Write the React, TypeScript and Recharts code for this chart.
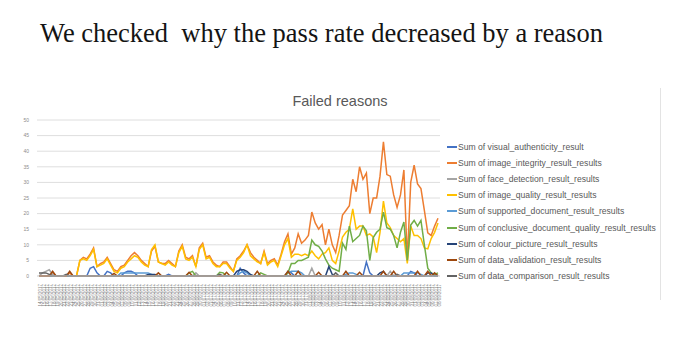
import { LineChart, Line, XAxis, YAxis, CartesianGrid } from "recharts"

const dates: string[] = []
for (let i = 0; i < 118; i++) {
  const d = new Date(2017, 4, 14 + i)
  dates.push(`${String(d.getDate()).padStart(2, "0")}/${String(d.getMonth() + 1).padStart(2, "0")}/${d.getFullYear()}`)
}

const yTicks = [0, 5, 10, 15, 20, 25, 30, 35, 40, 45, 50]

const seriesNames = [
  "Sum of visual_authenticity_result",
  "Sum of image_integrity_result_results",
  "Sum of face_detection_result_results",
  "Sum of image_quality_result_results",
  "Sum of supported_document_result_results",
  "Sum of conclusive_document_quality_result_results",
  "Sum of colour_picture_result_results",
  "Sum of data_validation_result_results",
  "Sum of data_comparison_result_results",
]

const colors = ["#4472C4", "#ED7D31", "#A5A5A5", "#FFC000", "#5B9BD5", "#70AD47", "#264478", "#9E480E", "#636363"]

const visualAuthenticity = [
  0, 0, 0, 0, 0, 0, 0, 0, 0, 0,
  0, 0, 0, 0, 0, 2.5, 3, 1, 0, 0,
  1.5, 1, 0, 0, 0, 1, 1.5, 1.5, 1, 0,
  0, 0, 0, 0, 0, 0, 0, 0, 0.5, 0,
  0, 0, 0, 0, 0, 0, 0, 0, 0, 0,
  0, 0, 0, 0, 0, 0, 0, 0, 0, 2.5,
  1, 0, 0, 0, 0, 0, 0, 0, 0, 0,
  0, 0, 0, 1.5, 1, 0, 0, 0, 0, 0,
  0, 0, 0, 0, 0, 0, 0, 0, 0, 0,
  0, 0, 0, 0, 0, 0, 4.5, 1, 0, 0,
  0, 0, 0, 0, 0, 0, 0, 0, 0, 1.5,
  1, 0, 0, 0, 0, 0, 0, 0,
]

const imageIntegrity = [
  0, 0, 0, 0, 1, 0, 0, 0, 0, 1,
  0, 0, 5, 6, 5.5, 7, 9, 3, 4, 4.5,
  6, 4, 2, 1.5, 3, 3.5, 5, 6.5, 7.5, 6.5,
  5, 4, 3, 8, 9.5, 4.5, 4, 4, 5, 4,
  3, 8, 10, 6, 5.5, 6.5, 3, 9, 10.5, 6,
  6.5, 4.5, 3.5, 3, 4.5, 4.5, 3, 1.5, 5.5, 6.5,
  8, 10, 7.5, 6, 5, 4, 8, 4, 5, 5.5,
  3.5, 7, 11, 13.5, 7, 9, 13.5, 10.5, 11.5, 13,
  20.5, 17, 15, 16.5, 10, 15, 10, 7.5, 13, 19.5,
  21, 22.5, 31, 27, 35, 31, 33, 20, 25, 25,
  32, 43, 32.5, 32, 26, 22, 26, 34, 5, 30,
  35.5, 29.5, 28, 21, 13.8, 13, 16, 18.5,
]

const faceDetection = [
  0, 1, 1.5, 2, 0.5, 0, 0, 0, 0, 0,
  0, 0, 0, 0, 0, 0, 0, 0, 0, 0,
  0, 0, 0, 0, 0, 0, 0, 0, 0, 0,
  0, 0, 0, 0, 0, 0, 0, 0, 0, 0,
  0, 0, 0, 0, 0, 0, 1, 0, 0, 0,
  0, 0, 0, 0, 0, 0, 0, 0, 0, 0,
  0, 0, 0, 0, 0, 0, 0, 0, 0, 0,
  0, 0, 0, 0, 0, 0, 0, 0, 0, 0,
  2.5, 0, 0, 0, 0, 0, 0, 0, 0, 0,
  0, 0, 0, 0, 0, 0, 0, 0, 0, 0,
  0, 0, 0, 1.5, 0, 0, 0, 0, 0, 0,
  0, 0, 0, 0, 0, 0, 0, 0.5,
]

const imageQuality = [
  0, 0, 0, 0, 0, 0, 0, 0, 0, 0,
  0, 0, 5, 5.5, 5, 6.5, 8.5, 3, 3.5, 4,
  5.5, 3.5, 1.5, 1, 2.5, 3, 4.5, 5.5, 6.5, 6,
  4.5, 3.5, 3, 8.5, 10, 4.5, 4, 3.5, 4.5, 3.5,
  3, 7.5, 9.5, 5.5, 5, 6, 3, 8.5, 10, 5.5,
  6, 4, 3, 3, 4, 4, 2.5, 1.5, 5, 6,
  7.5, 10, 6.5, 5.5, 4.5, 4, 7.5, 3.5, 4.5, 5,
  3, 6.5, 10, 12, 6, 7, 7, 6.5, 7, 6.5,
  8, 6.5, 5.5, 7, 7.5, 9, 5, 4, 8, 12.5,
  14, 15, 21.5, 15, 16, 16, 13, 13.5, 12.5, 7.5,
  14, 24, 17, 15.5, 13, 12, 11, 12, 4, 16,
  13, 13, 12, 9, 8.7, 12, 14, 17,
]

const supportedDocument = [
  0, 0, 0, 0, 0, 0, 0, 0, 0, 0,
  0, 0, 0, 0, 0, 0, 0, 0, 0, 0,
  0, 0, 0, 0, 1, 1, 1, 1, 1, 1,
  1, 1, 1, 0.5, 0, 0, 0, 0, 0, 0,
  0, 0, 0, 0, 0, 0, 0, 0, 0, 0,
  0, 0, 0, 0, 0, 0, 0, 0, 0, 1,
  1.5, 1, 0, 0, 0, 0, 0, 0, 0, 0,
  0, 0, 0, 1, 1.5, 1.5, 1.5, 1, 0, 0,
  0, 0, 0, 0, 0, 0, 0, 0, 0, 0,
  0.5, 1, 1, 0.5, 0, 0, 0, 0, 0, 0,
  0, 0, 0, 0, 0, 0, 0, 1, 1, 1,
  1, 1, 0.5, 0, 0, 0, 0, 0,
]

const conclusiveDocumentQuality = [
  0, 0, 0, 0, 0, 0, 0, 0, 0, 0,
  0, 0, 0, 0, 0, 0, 0, 0, 0, 0,
  0, 0, 0, 0, 0, 0, 0, 0, 0, 0,
  0, 0, 0, 0, 0, 0, 0, 0, 0, 0,
  0, 0, 0, 0, 1, 1.5, 0, 0, 0, 0,
  0, 0, 0, 1.2, 1, 0, 0, 0, 0, 0,
  0, 0, 0, 0, 0, 1, 0.5, 0, 0, 0,
  0, 0, 0, 1, 4, 4, 5, 5, 5.5, 6,
  11.5, 10, 9.5, 8, 5.5, 3.5, 2.5, 2, 1.5, 10.5,
  8.5, 16, 11, 12, 13, 16, 14.5, 5, 12.3, 14,
  15, 20.5, 15.5, 15, 13, 9, 14, 17.3, 5, 16.3,
  17.8, 16, 17.8, 10, 2.5, 1, 0.5, 1,
]

const colourPicture = [
  0, 0, 0, 0, 0, 0, 0, 0, 0, 0,
  0, 0, 0, 0, 0, 0, 0, 0, 0, 0,
  0, 0, 0, 0, 0, 0, 0, 0, 0, 0,
  0, 0, 0.5, 0.5, 0.5, 0, 0, 0, 0, 0,
  0, 0, 0, 0, 0, 0, 0, 0, 0, 0,
  0, 0, 0, 0, 0, 0, 0, 0, 1.5, 2,
  2, 1.5, 0.5, 0, 0, 0, 0, 0, 0, 0,
  0, 0, 0, 0, 0, 0, 0, 0, 0, 0,
  0, 0, 0, 0, 0, 3, 0.5, 0, 0, 0,
  0, 0, 0, 0, 0, 0, 0, 0, 0, 0,
  1, 1.5, 0, 0, 0, 0, 0, 0, 0, 0,
  0, 0, 0, 0, 1, 1, 0, 0,
]

const dataValidation = [
  0, 0, 0, 0, 1.5, 0, 0, 0, 0, 1.5,
  0, 0, 0, 0, 0, 0, 0, 0, 0, 0,
  0, 0, 0.8, 0, 0, 0, 0, 0, 0, 0,
  0, 0, 0, 0, 0, 1, 0, 0, 0, 0,
  0, 0, 0, 0, 1.2, 0, 0, 0, 0, 0,
  0, 0, 0, 0, 0, 1.2, 0, 0, 0, 0,
  0, 0, 0, 0, 1.5, 0, 0, 0, 0, 0,
  0, 0, 0, 1.5, 0, 0, 1.5, 0, 0, 0,
  0, 0, 1.2, 0, 0, 0, 0, 0, 0, 0,
  1.5, 0, 0, 0, 1.2, 0, 0, 0, 0, 0,
  0, 1.5, 0, 0, 1.5, 0, 0, 0, 0, 0,
  0, 1.5, 0, 0, 1.5, 0, 1, 0,
]

const dataComparison = [
  1, 1, 1, 0.5, 0, 0, 0, 0, 0.5, 0,
  0, 0, 0, 0, 0, 0, 0, 0, 0, 0,
  0, 0, 0, 0, 0, 0, 0, 0, 0, 0,
  0, 0, 0, 0, 0, 0, 0, 0, 0, 0,
  0, 0, 0, 0, 0, 0, 0, 0, 0, 0,
  0, 0, 0, 0.5, 0, 0, 0, 0, 0, 0,
  0, 0, 0, 0, 0, 0, 0, 0, 0, 0,
  0, 0, 0, 0, 0, 0, 0, 0, 0, 0,
  0, 0, 0, 0, 0, 0, 0, 1, 0, 0,
  0, 0, 0, 0, 0, 0, 0, 0, 0, 0,
  0, 0, 0, 0, 0, 0.5, 0, 0, 0, 0,
  0, 0, 0, 0, 0, 0, 0, 0,
]

const seriesValues = [
  visualAuthenticity, imageIntegrity, faceDetection, imageQuality, supportedDocument,
  conclusiveDocumentQuality, colourPicture, dataValidation, dataComparison,
]

const data = dates.map((date, i) => {
  const row: Record<string, string | number> = { date }
  seriesValues.forEach((vals, s) => { row["s" + s] = vals[i] })
  return row
})

const font = "Liberation Sans, Arial, sans-serif"

export default function App() {
  return (
    <div style={{ position: "absolute", left: 0, top: 0, width: 680, height: 342, background: "#fff", overflow: "hidden" }}>
      <div style={{ position: "absolute", left: 40, top: 20, fontFamily: "Liberation Serif, serif", fontSize: 26.5, lineHeight: "27px", color: "#141414", whiteSpace: "pre" }}>
        We checked  why the pass rate decreased by a reason
      </div>
      <div style={{ position: "absolute", left: 240, width: 200, top: 94, textAlign: "center", fontFamily: font, fontSize: 14.5, lineHeight: "15px", color: "#595959" }}>
        Failed reasons
      </div>
      <div style={{ position: "absolute", left: 660, top: 88, width: 1, height: 212, background: "#e3e3e3" }} />
      <div style={{ position: "absolute", left: 447, top: 139, fontFamily: font, fontSize: 8.6, color: "#595959" }}>
        {seriesNames.map((name, i) => (
          <div key={name} style={{ display: "flex", alignItems: "center", height: 16.1, whiteSpace: "nowrap" }}>
            <span style={{ display: "inline-block", width: 10, height: 2, background: colors[i], marginRight: 1 }} />
            <span>{name}</span>
          </div>
        ))}
      </div>
      <div style={{ position: "absolute", left: 0, top: 0 }}>
        <LineChart width={680} height={342} data={data} margin={{ top: 120, right: 240, bottom: 36, left: 25 }}>
          <CartesianGrid vertical={false} stroke="#dedede" />
          <XAxis
            dataKey="date"
            interval={0}
            angle={-90}
            textAnchor="end"
            height={30}
            tickLine={false}
            axisLine={{ stroke: "#d9d9d9" }}
            padding={{ left: 2, right: 2 }}
            tick={{ fontSize: 4.5, fill: "#7f7f7f", fontFamily: font }}
          />
          <YAxis
            width={12}
            domain={[0, 50]}
            ticks={yTicks}
            interval={0}
            axisLine={false}
            tickLine={false}
            tick={{ fontSize: 5, fill: "#8c8c8c", fontFamily: font }}
          />
          {seriesNames.map((name, i) => (
            <Line
              key={name}
              type="linear"
              dataKey={"s" + i}
              name={name}
              stroke={colors[i]}
              strokeWidth={1.5}
              dot={false}
              isAnimationActive={false}
            />
          ))}
        </LineChart>
      </div>
    </div>
  )
}
